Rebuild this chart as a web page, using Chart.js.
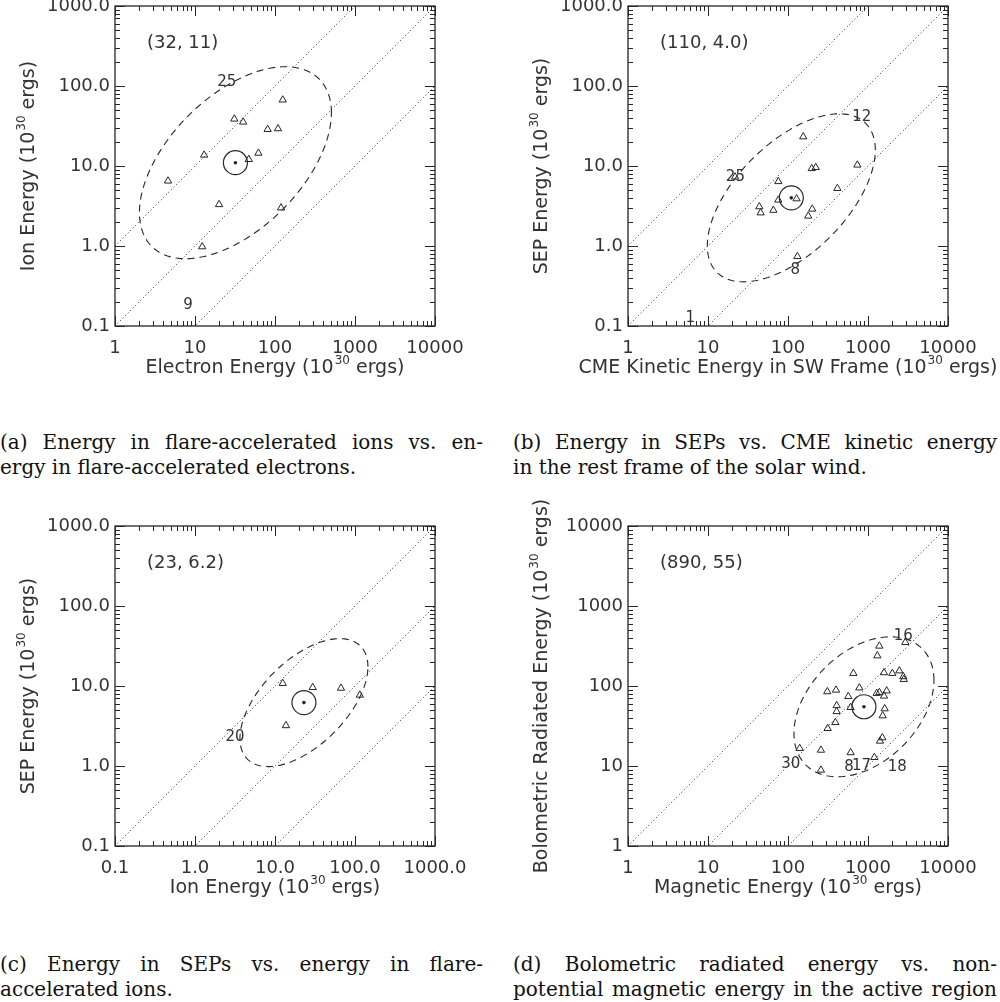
<!DOCTYPE html>
<html>
<head>
<meta charset="utf-8">
<script src="https://cdn.jsdelivr.net/npm/chart.js@4.4.1/dist/chart.umd.min.js"></script>
<style>
  html, body { margin: 0; padding: 0; background: #fff; }
  #page { position: relative; width: 1000px; height: 1002px; overflow: hidden; }
  .panel { position: absolute; }
  .cap { position: absolute; font-family: 'DejaVu Serif', 'Liberation Serif', serif; font-size: 20px; line-height: 25px; color: #111; }
  .cap div { white-space: nowrap; }
  .cap .full { text-align: justify; text-align-last: justify; }
</style>
</head>
<body>
<div id="page">
  <div class="panel" style="left:0;top:0;width:490px;height:395px"><canvas id="chartA"></canvas></div>
  <div class="panel" style="left:513px;top:0;width:487px;height:395px"><canvas id="chartB"></canvas></div>
  <div class="panel" style="left:0;top:490px;width:490px;height:425px"><canvas id="chartC"></canvas></div>
  <div class="panel" style="left:513px;top:490px;width:487px;height:425px"><canvas id="chartD"></canvas></div>

  <div class="cap" style="left:0;top:430px;width:483px">
    <div class="full">(a) Energy in flare-accelerated ions vs. en-</div>
    <div>ergy in flare-accelerated electrons.</div>
  </div>
  <div class="cap" style="left:513px;top:430px;width:484px">
    <div class="full">(b) Energy in SEPs vs. CME kinetic energy</div>
    <div>in the rest frame of the solar wind.</div>
  </div>
  <div class="cap" style="left:0;top:952px;width:483px">
    <div class="full">(c) Energy in SEPs vs. energy in flare-</div>
    <div>accelerated ions.</div>
  </div>
  <div class="cap" style="left:513px;top:952px;width:484px">
    <div class="full">(d) Bolometric radiated energy vs. non-</div>
    <div class="full">potential magnetic energy in the active region</div>
  </div>
</div>

<script>
const FONT = "'DejaVu Sans', sans-serif";
const INK = '#262626';
const TEXT = '#333';

// decade ticks and their printed labels
const decadesLow = [0.1, 1, 10, 100, 1000];
const decadesHigh = [1, 10, 100, 1000, 10000];
const labelsLow = ['0.1', '1.0', '10.0', '100.0', '1000.0'];
const labelsHigh = ['1', '10', '100', '1000', '10000'];

// (a) flare-accelerated ions vs electrons (10^30 erg)
const aElectron = [4.6, 13, 31, 40, 125, 81, 109, 47, 62, 20, 119, 12.3];
const aIon = [6.5, 13.7, 38.7, 35.5, 67, 28.7, 29.3, 12.1, 14.5, 3.3, 3.0, 0.98];

// (b) SEP energy vs CME kinetic energy in the solar wind frame
const bCme = [21.8, 75.7, 43.8, 45.5, 65.6, 75.7, 128, 131, 155, 198, 222, 736, 414, 201, 179];
const bSep = [7.3, 6.4, 3.1, 2.6, 2.8, 3.76, 3.9, 0.74, 23.2, 9.3, 9.6, 10.3, 5.25, 2.9, 2.37];

// (c) SEP energy vs flare ion energy
const cIon = [12.5, 29.6, 66.8, 115, 13.7];
const cSep = [10.8, 9.6, 9.4, 7.7, 3.2];

// (d) bolometric radiated energy vs non-potential magnetic energy
const dMagnetic = [1387, 1309, 2930, 656, 1585, 2013, 2464, 2765, 2800, 310, 398, 779, 567, 1284, 1387, 1711,
                   1585, 406, 406, 607, 1616, 1525, 391, 313, 1510, 1413, 140, 258, 607, 1200, 258];
const dBolometric = [316, 239, 351, 144, 147, 144, 155, 131, 121, 85, 89, 95, 74, 81, 83, 87,
                     75, 57, 48, 54, 52, 42.5, 35, 29.5, 22.6, 20.5, 16.6, 15.8, 14.7, 12.8, 8.9];

// log means per panel, and the 1-sigma ellipse (decades) with correlation
const meanX = [32, 110, 23, 890];
const meanY = [11, 4.0, 6.2, 55];
const sigmaX = [1.2, 1.05, 0.8, 0.875];
const sigmaY = [1.2, 1.05, 0.8, 0.875];
const rho = [0.52, 0.57, 0.56, 0.38];

// event numbers written next to individual points
const aEvents = [[25, 112, '25'], [8.2, 0.18, '9']];
const bEvents = [[22, 7.3, '25'], [834, 41, '12'], [123, 0.5, '8'], [6.0, 0.125, '1']];
const cEvents = [[3.16, 2.3, '20']];
const dEvents = [[2766, 422, '16'], [108, 10.6, '30'], [578, 9.8, '8'], [832, 10, '17'], [2325, 9.6, '18']];

// equal-energy guide lines y = k * x
const ratios = [1, 0.1, 0.01];

const panels = [
  { id: 'chartA', top: 6, xs: aElectron, ys: aIon, events: aEvents,
    xTicks: decadesHigh, xLabels: labelsHigh, yTicks: decadesLow, yLabels: labelsLow,
    xTitle: ['Electron Energy (10', '30', ' ergs)'], yTitle: ['Ion Energy (10', '30', ' ergs)'] },
  { id: 'chartB', top: 6, xs: bCme, ys: bSep, events: bEvents,
    xTicks: decadesHigh, xLabels: labelsHigh, yTicks: decadesLow, yLabels: labelsLow,
    xTitle: ['CME Kinetic Energy in SW Frame (10', '30', ' ergs)'], yTitle: ['SEP Energy (10', '30', ' ergs)'] },
  { id: 'chartC', top: 36, xs: cIon, ys: cSep, events: cEvents,
    xTicks: decadesLow, xLabels: labelsLow, yTicks: decadesLow, yLabels: labelsLow,
    xTitle: ['Ion Energy (10', '30', ' ergs)'], yTitle: ['SEP Energy (10', '30', ' ergs)'] },
  { id: 'chartD', top: 36, xs: dMagnetic, ys: dBolometric, events: dEvents,
    xTicks: decadesHigh, xLabels: labelsHigh, yTicks: decadesHigh, yLabels: labelsHigh,
    xTitle: ['Magnetic Energy (10', '30', ' ergs)'], yTitle: ['Bolometric Radiated Energy (10', '30', ' ergs)'] }
];

function logTicks(min, max) {
  const out = [];
  for (let e = Math.floor(Math.log10(min)); e <= Math.ceil(Math.log10(max)); e++) {
    for (let m = 1; m <= 9; m++) {
      const v = m * Math.pow(10, e);
      if (v >= min * 0.999 && v <= max * 1.001) out.push([v, m === 1]);
    }
  }
  return out;
}

// title with a superscript exponent, centred on (cx, cy)
function drawTitle(ctx, parts, cx, cy) {
  const big = '19px ' + FONT, small = '12px ' + FONT;
  ctx.font = big;
  const w0 = ctx.measureText(parts[0]).width, w2 = ctx.measureText(parts[2]).width;
  ctx.font = small;
  const w1 = ctx.measureText(parts[1]).width;
  let x = cx - (w0 + w1 + w2 + 1) / 2;
  ctx.textAlign = 'left';
  ctx.textBaseline = 'middle';
  ctx.font = big; ctx.fillText(parts[0], x, cy); x += w0 + 1;
  ctx.font = small; ctx.fillText(parts[1], x, cy - 7); x += w1;
  ctx.font = big; ctx.fillText(parts[2], x, cy);
}

const decor = {
  id: 'decor',
  afterDatasetsDraw(chart, args, opts) {
    const { ctx, chartArea: area, scales: { x, y } } = chart;
    const i = opts.index, p = panels[i];
    ctx.save();
    ctx.strokeStyle = INK;
    ctx.fillStyle = TEXT;

    // spread ellipse (a true ellipse in log-log space)
    ctx.save();
    ctx.beginPath();
    ctx.rect(area.left, area.top, area.width, area.height);
    ctx.clip();
    ctx.lineWidth = 1.1;
    ctx.setLineDash([7, 5]);
    ctx.beginPath();
    const lx = Math.log10(meanX[i]), ly = Math.log10(meanY[i]);
    const q = Math.sqrt(1 - rho[i] * rho[i]);
    for (let s = 0; s <= 200; s++) {
      const t = s / 200 * 2 * Math.PI;
      const u = lx + sigmaX[i] * Math.cos(t);
      const v = ly + sigmaY[i] * (rho[i] * Math.cos(t) + q * Math.sin(t));
      const px = x.getPixelForValue(Math.pow(10, u)), py = y.getPixelForValue(Math.pow(10, v));
      if (s === 0) ctx.moveTo(px, py); else ctx.lineTo(px, py);
    }
    ctx.stroke();
    ctx.restore();

    // frame with inward ticks on all four sides
    ctx.lineWidth = 1.3;
    ctx.strokeRect(area.left, area.top, area.width, area.height);
    ctx.lineWidth = 1;
    ctx.beginPath();
    logTicks(x.min, x.max).forEach(([v, major]) => {
      const px = Math.round(x.getPixelForValue(v)) + 0.5, len = major ? 10 : 5;
      ctx.moveTo(px, area.bottom); ctx.lineTo(px, area.bottom - len);
      ctx.moveTo(px, area.top); ctx.lineTo(px, area.top + len);
    });
    logTicks(y.min, y.max).forEach(([v, major]) => {
      const py = Math.round(y.getPixelForValue(v)) + 0.5, len = major ? 10 : 5;
      ctx.moveTo(area.left, py); ctx.lineTo(area.left + len, py);
      ctx.moveTo(area.right, py); ctx.lineTo(area.right - len, py);
    });
    ctx.stroke();

    // mean value note
    const fmt = v => (v < 10 ? v.toFixed(1) : String(v));
    ctx.font = '18px ' + FONT;
    ctx.textAlign = 'left';
    ctx.textBaseline = 'middle';
    ctx.fillText('(' + meanX[i] + ', ' + fmt(meanY[i]) + ')', area.left + 32, area.top + 37);

    // event numbers
    ctx.font = '15px ' + FONT;
    ctx.textAlign = 'center';
    p.events.forEach(([ex, ey, txt]) => {
      ctx.fillText(txt, x.getPixelForValue(ex), y.getPixelForValue(ey));
    });

    // axis titles
    drawTitle(ctx, p.xTitle, (area.left + area.right) / 2, area.bottom + 42);
    ctx.translate(29, (area.top + area.bottom) / 2);
    ctx.rotate(-Math.PI / 2);
    drawTitle(ctx, p.yTitle, 0, 0);
    ctx.restore();
  }
};

function tickLabel(values, labels) {
  return v => {
    const k = values.findIndex(t => Math.abs(t - v) < t * 1e-6);
    return k < 0 ? '' : labels[k];
  };
}

panels.forEach((p, i) => {
  const xMin = p.xTicks[0], xMax = p.xTicks[p.xTicks.length - 1];
  const yMin = p.yTicks[0], yMax = p.yTicks[p.yTicks.length - 1];
  const box = document.getElementById(p.id).parentNode;
  const boxW = box.clientWidth, boxH = box.clientHeight;

  const guides = ratios.map(k => ({
    data: [{ x: xMin, y: xMin * k }, { x: xMax, y: xMax * k }],
    showLine: true, pointRadius: 0, borderColor: INK, borderWidth: 1, borderDash: [1, 2.6]
  }));

  new Chart(document.getElementById(p.id), {
    type: 'scatter',
    data: {
      datasets: [
        { data: p.xs.map((v, k) => ({ x: v, y: p.ys[k] })), pointStyle: 'triangle', pointRadius: 4.2,
          pointBorderColor: INK, pointBackgroundColor: 'rgba(0,0,0,0)', pointBorderWidth: 1 },
        { data: [{ x: meanX[i], y: meanY[i] }], pointStyle: 'circle', pointRadius: 12,
          pointBorderColor: INK, pointBackgroundColor: 'rgba(0,0,0,0)', pointBorderWidth: 1.2 },
        { data: [{ x: meanX[i], y: meanY[i] }], pointStyle: 'circle', pointRadius: 1.8,
          pointBorderColor: INK, pointBackgroundColor: INK, pointBorderWidth: 0 },
        ...guides
      ]
    },
    options: {
      responsive: true,
      maintainAspectRatio: false,
      animation: false,
      events: [],
      layout: { autoPadding: false, padding: { top: p.top, left: 0, bottom: 0, right: boxW - 435 } },
      plugins: { legend: { display: false }, tooltip: { enabled: false }, decor: { index: i } },
      scales: {
        x: {
          type: 'logarithmic', position: 'bottom', min: xMin, max: xMax,
          grid: { display: false, drawTicks: false }, border: { display: false },
          afterBuildTicks: s => { s.ticks = p.xTicks.map(v => ({ value: v, major: true })); },
          afterFit: s => { s.height = boxH - p.top - 320; s.paddingLeft = 0; s.paddingRight = 0; },
          ticks: { autoSkip: false, maxRotation: 0, padding: 12, color: TEXT,
                   font: { size: 18, family: FONT }, callback: tickLabel(p.xTicks, p.xLabels) }
        },
        y: {
          type: 'logarithmic', position: 'left', min: yMin, max: yMax,
          grid: { display: false, drawTicks: false }, border: { display: false },
          afterBuildTicks: s => { s.ticks = p.yTicks.map(v => ({ value: v, major: true })); },
          afterFit: s => { s.width = 115; s.paddingTop = 0; s.paddingBottom = 0; },
          ticks: { autoSkip: false, padding: 5, color: TEXT,
                   font: { size: 18, family: FONT }, callback: tickLabel(p.yTicks, p.yLabels) }
        }
      }
    },
    plugins: [decor]
  });
});
</script>
</body>
</html>
